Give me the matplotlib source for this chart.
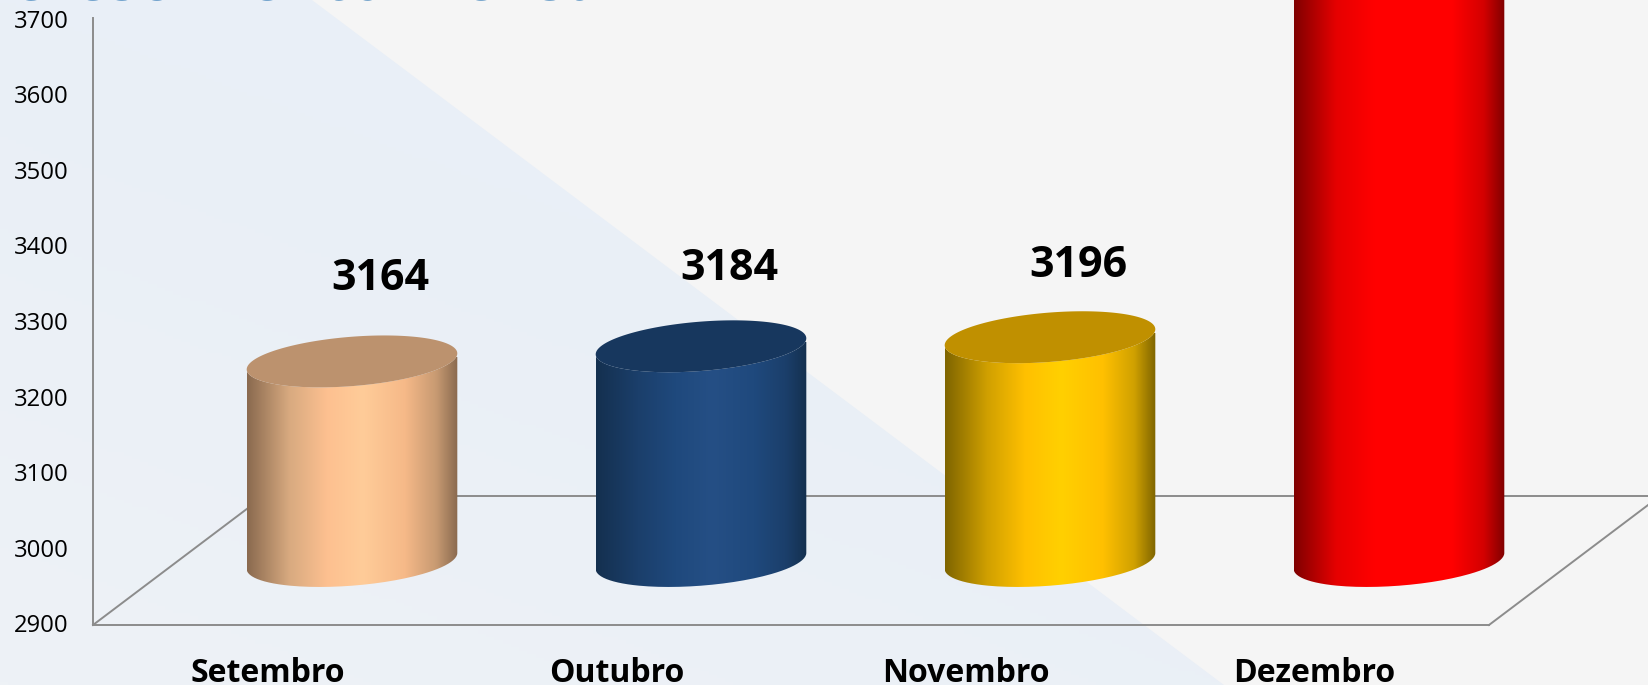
import numpy as np
import matplotlib
matplotlib.use("Agg")
import matplotlib.pyplot as plt
from matplotlib.colors import LinearSegmentedColormap, to_rgb
from matplotlib.path import Path
from matplotlib.patches import PathPatch
from matplotlib.transforms import ScaledTranslation

# ---- data ----
categories = ["Setembro", "Outubro", "Novembro", "Dezembro"]
values = [3164, 3184, 3196, 3750]          # last bar runs off the picture: estimate
value_labels = ["3164", "3184", "3196", None]
y_ticks = [2900, 3000, 3100, 3200, 3300, 3400, 3500, 3600, 3700]
title = "Crescimento mensal"

# ---- style ----
W, H = 1648, 685
bar_sides = [
    ["#8a6a4f", "#d8aa80", "#fdc090", "#ffcc99", "#f6b988", "#c79a72", "#8a6a4f"],
    ["#14304f", "#1b3f6b", "#1f497d", "#254f85", "#1f497d", "#1b3f6b", "#14304f"],
    ["#7f6500", "#d0a000", "#ffc000", "#ffd000", "#ffc000", "#cfa000", "#7f6500"],
    ["#800000", "#e60000", "#ff0000", "#ff0000", "#ff0000", "#d40000", "#800000"],
]
stops = [0, 0.2, 0.38, 0.55, 0.75, 0.9, 1]
bar_tops = ["#bc926e", "#17375e", "#c09000", "#c00000"]
AXIS = "#8c8c8c"
FONT = ["Open Sans", "DejaVu Sans"]
plt.rcParams["font.family"] = FONT

fig = plt.figure(figsize=(W / 100, H / 100), dpi=100, facecolor="#f5f5f5")

# background: light blue triangle with a soft gradient
bg = fig.add_axes([0, 0, 1, 1], zorder=0)
bg.set_xlim(0, W); bg.set_ylim(H, 0); bg.axis("off")
gx, gy = np.meshgrid(np.linspace(0, 1, 200), np.linspace(0, 1, 200))
g = np.clip(gy - gx * 0.9, 0, 1)
c0, c1 = np.array(to_rgb("#e9eff7")), np.array(to_rgb("#eef2f6"))
img = c0 + (c1 - c0) * g[..., None]
im = bg.imshow(img, extent=(0, W, H, 0), aspect="auto", zorder=1)
tri = PathPatch(Path([(0, 0), (312, 0), (1224, H), (0, H), (0, 0)]), transform=bg.transData,
                fc="none", ec="none")
bg.add_patch(tri)
im.set_clip_path(tri)
bg.set_xlim(0, W); bg.set_ylim(H, 0)

# chart axes
L, R, B, T = 93, 1489, 625, 18
ax = fig.add_axes([L / W, 1 - B / H, (R - L) / W, (B - T) / H], zorder=2)
ax.patch.set_alpha(0)
xlim = (-0.5, len(categories) - 0.5)
ylim = (2900, 2900 + (B - T) / 0.756)
px_y = 1 / 0.756                               # data units per pixel, vertical
px_x = (xlim[1] - xlim[0]) / (R - L)           # data units per pixel, horizontal

# floor of the 3D plot
depth_x, depth_y = 171 * px_x, 129 * px_y
ax.plot([xlim[0], xlim[0] + depth_x, xlim[1] + depth_x, xlim[1]],
        [ylim[0], ylim[0] + depth_y, ylim[0] + depth_y, ylim[0]],
        color=AXIS, lw=1.4, clip_on=False, zorder=1)

# cylinders
offset_x = 84.5 * px_x
base_lift = 56 * px_y
half_w = 105.3 * px_x
b_ell = 24.7 * px_y
shear = 8.0 * px_y
t = np.linspace(0, 2 * np.pi, 181)
for i, (v, sc, tc) in enumerate(zip(values, bar_sides, bar_tops)):
    cx = i + offset_x
    y0 = ylim[0] + base_lift + shear     # centre of the base ellipse
    y1 = v + base_lift + shear           # centre of the top ellipse
    ex = cx + half_w * np.cos(t)
    ey = shear * np.cos(t) + b_ell * np.sin(t)   # right side sits higher on screen
    lower = np.sin(t) <= 0
    order = np.argsort(ex[lower])
    bx, by = ex[lower][order], ey[lower][order]
    outline = np.r_[np.c_[bx, by + y0], np.c_[bx[::-1], by[::-1] + y1]]
    body = PathPatch(Path(np.r_[outline, outline[:1]]), transform=ax.transData, fc="none", ec="none")
    ax.add_patch(body)
    cmap = LinearSegmentedColormap.from_list("c%d" % i, list(zip(stops, sc)))
    grad = np.linspace(0, 1, 256)[None, :]
    ymin = y0 - 40 * px_y
    im = ax.imshow(grad, cmap=cmap, aspect="auto", zorder=3,
                   extent=(cx - half_w, cx + half_w, ymin, y1 + 5), interpolation="bilinear")
    im.set_clip_box(fig.bbox)
    im.set_clip_path(body)
    cap = PathPatch(Path(np.c_[ex, ey + y1]), fc=tc, ec="none", zorder=4, clip_on=False)
    ax.add_patch(cap)

# value labels
label_gap = [91, 86, 80]
for i, (v, s) in enumerate(zip(values, value_labels)):
    if s is None:
        continue
    ax.text(i + 113 * px_x, v + base_lift + label_gap[i] * px_y, s, ha="center", va="center",
            fontsize=31, fontweight="bold", color="black", zorder=5, clip_on=False)

ax.set_xlim(*xlim); ax.set_ylim(*ylim)
ax.set_xticks(range(len(categories)), categories, fontweight="bold", fontsize=23)
ax.set_yticks(y_ticks)
ax.tick_params(axis="x", length=0, pad=23, labelcolor="black")
ax.tick_params(axis="y", length=0, pad=17.5, labelsize=17.2, labelcolor="black")
shift = ScaledTranslation(0, 1.5 / 100, fig.dpi_scale_trans)
for lab in ax.get_yticklabels():
    lab.set_transform(lab.get_transform() + shift)
for k in ("top", "right"):
    ax.spines[k].set_visible(False)
for k in ("left", "bottom"):
    ax.spines[k].set_color(AXIS); ax.spines[k].set_linewidth(1.4)

# title, almost entirely cut off by the top edge of the picture
fig.text(8 / W, 1 + 0.5 / H, title, fontsize=43.5, fontweight="bold", color="#005aa5",
         ha="left", va="baseline", zorder=6)

fig.savefig("out.png", dpi=100, facecolor=fig.get_facecolor())
